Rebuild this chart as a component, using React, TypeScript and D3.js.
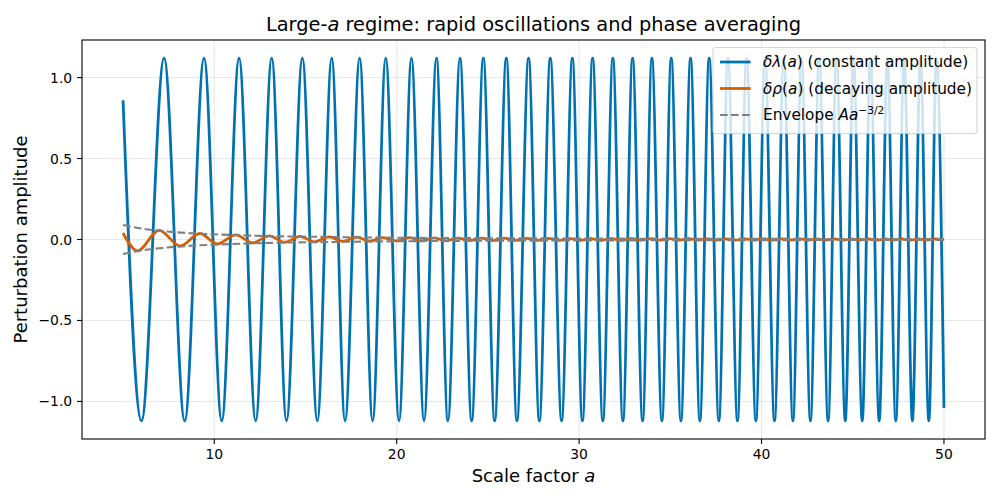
import React from "react";
import * as d3 from "d3";

// ---- data ----
const xTicks = [10, 20, 30, 40, 50];
const yTicks = [-1.0, -0.5, 0.0, 0.5, 1.0];

// δλ(a): start / end values and positions of extrema
const blueStart = { a: 5.0, v: 0.86 };
const blueEnd = { a: 50.0, v: -1.04 };
const bluePeakValue = 1.12;
const blueTroughValue = -1.12;
const bluePeakA = [7.25, 9.44, 11.36, 13.15, 14.83, 16.44, 17.97, 19.40, 20.81, 22.18, 23.47, 24.75, 26.01, 27.23, 28.42, 29.63, 30.74, 31.85, 32.93, 33.99, 35.05, 36.11, 37.13, 38.16, 39.18, 40.19, 41.22, 42.19, 43.16, 44.11, 45.04, 45.97, 46.90, 47.82, 48.71, 49.59];
const blueTroughA = [6.01, 8.38, 10.41, 12.27, 13.96, 15.65, 17.17, 18.68, 20.13, 21.50, 22.81, 24.11, 25.37, 26.59, 27.82, 29.04, 30.18, 31.30, 32.40, 33.48, 34.54, 35.58, 36.62, 37.66, 38.68, 39.69, 40.71, 41.72, 42.68, 43.65, 44.59, 45.52, 46.45, 47.36, 48.27, 49.17];

// δρ(a): decaying oscillation, extrema positions and values
const orangeStart = { a: 5.0, v: 0.04 };
const orangeEnd = { a: 50.0, v: 0.0 };
const orangePeakA = [6.98, 9.21, 11.18, 13.02, 14.70, 16.30, 17.82, 19.25, 20.68, 22.05, 23.35, 24.62, 25.88, 27.10, 28.30, 29.50, 30.62, 31.74, 32.82, 33.88, 34.94, 36.00, 37.02, 38.05, 39.07, 40.08, 41.11, 42.09, 43.06, 44.01, 44.94, 45.87, 46.80, 47.72, 48.62, 49.50];
const orangePeakV = [0.057, 0.037, 0.028, 0.022, 0.019, 0.016, 0.014, 0.012, 0.011, 0.010, 0.009, 0.008, 0.008, 0.007, 0.007, 0.006, 0.006, 0.006, 0.005, 0.005, 0.005, 0.005, 0.004, 0.004, 0.004, 0.004, 0.004, 0.004, 0.003, 0.003, 0.003, 0.003, 0.003, 0.003, 0.003, 0.003];
const orangeTroughA = [5.79, 8.13, 10.17, 12.10, 13.85, 15.50, 17.04, 18.52, 19.98, 21.38, 22.70, 23.99, 25.25, 26.48, 27.70, 28.92, 30.06, 31.19, 32.29, 33.37, 34.43, 35.47, 36.51, 37.55, 38.57, 39.58, 40.60, 41.61, 42.58, 43.55, 44.48, 45.42, 46.35, 47.26, 48.17, 49.07];
const orangeTroughV = [-0.070, -0.040, -0.027, -0.021, -0.017, -0.014, -0.012, -0.010, -0.009, -0.008, -0.008, -0.007, -0.007, -0.006, -0.006, -0.005, -0.005, -0.005, -0.005, -0.004, -0.004, -0.004, -0.004, -0.004, -0.004, -0.003, -0.003, -0.003, -0.003, -0.003, -0.003, -0.003, -0.003, -0.003, -0.003, -0.003];

// Envelope A a^{-3/2}
const envA = [5, 5.5, 6, 6.5, 7, 8, 9, 10, 12, 14, 16, 18, 20, 23, 26, 30, 35, 40, 45, 50];
const envV = [0.089, 0.078, 0.068, 0.060, 0.054, 0.044, 0.037, 0.032, 0.024, 0.019, 0.016, 0.013, 0.011, 0.009, 0.0075, 0.006, 0.0048, 0.004, 0.0033, 0.0028];

type P = { a: number; v: number };

function buildSeries(start: P, end: P, peaks: P[], troughs: P[]): P[] {
  const pts = [start, ...peaks, ...troughs, end];
  return pts.sort((p, q) => p.a - q.a);
}

const blueSeries = buildSeries(
  blueStart,
  blueEnd,
  bluePeakA.map((a) => ({ a, v: bluePeakValue })),
  blueTroughA.map((a) => ({ a, v: blueTroughValue }))
);
const orangeSeries = buildSeries(
  orangeStart,
  orangeEnd,
  orangePeakA.map((a, i) => ({ a, v: orangePeakV[i] })),
  orangeTroughA.map((a, i) => ({ a, v: orangeTroughV[i] }))
);
const envUpper = envA.map((a, i) => ({ a, v: envV[i] }));
const envLower = envA.map((a, i) => ({ a, v: -envV[i] }));

const W = 1000;
const H = 500;
const L = 82;
const R = 985;
const T = 40;
const B = 439;

const FONT = "'DejaVu Sans', sans-serif";
const BLUE = "#0072B2";
const ORANGE = "#D55E00";
const GRAY = "#808080";

export default function App() {
  const x = d3.scaleLinear().domain([2.75, 52.25]).range([L, R]);
  const y = d3.scaleLinear().domain([-1.232, 1.232]).range([B, T]);

  const line = d3
    .line<P>()
    .x((d) => x(d.a))
    .y((d) => y(d.v))
    .curve(d3.curveMonotoneX);
  const straight = d3
    .line<P>()
    .x((d) => x(d.a))
    .y((d) => y(d.v))
    .curve(d3.curveMonotoneX);

  const legendX = 713;
  const legendY = 47.5;
  const rows = [62, 88.5, 115];

  return (
    <svg
      width={W}
      height={H}
      style={{ position: "absolute", left: 0, top: 0, background: "#fff" }}
      fontFamily={FONT}
    >
      <rect x={0} y={0} width={W} height={H} fill="#fff" />
      <defs>
        <clipPath id="plotclip">
          <rect x={L} y={T} width={R - L} height={B - T} />
        </clipPath>
      </defs>

      {/* grid */}
      {xTicks.map((t) => (
        <line key={"gx" + t} x1={x(t)} x2={x(t)} y1={T} y2={B} stroke="#b0b0b0" strokeOpacity={0.3} strokeWidth={1.1} />
      ))}
      {yTicks.map((t) => (
        <line key={"gy" + t} x1={L} x2={R} y1={y(t)} y2={y(t)} stroke="#b0b0b0" strokeOpacity={0.3} strokeWidth={1.1} />
      ))}

      <g clipPath="url(#plotclip)">
        <path d={line(blueSeries) || ""} fill="none" stroke={BLUE} strokeWidth={2.78} strokeLinejoin="round" />
        <path d={line(orangeSeries) || ""} fill="none" stroke={ORANGE} strokeWidth={2.78} strokeLinejoin="round" />
        <path d={straight(envUpper) || ""} fill="none" stroke={GRAY} strokeWidth={2.08} strokeDasharray="7.7,3.3" />
        <path d={straight(envLower) || ""} fill="none" stroke={GRAY} strokeWidth={2.08} strokeDasharray="7.7,3.3" />
      </g>

      {/* axes frame */}
      <rect x={L} y={T} width={R - L} height={B - T} fill="none" stroke="#000" strokeWidth={1.1} />

      {/* x ticks */}
      {xTicks.map((t) => (
        <g key={"xt" + t}>
          <line x1={x(t)} x2={x(t)} y1={B} y2={B + 4.9} stroke="#000" strokeWidth={1.1} />
          <text x={x(t)} y={B + 20} textAnchor="middle" fontSize={13.9} fill="#000">
            {t}
          </text>
        </g>
      ))}
      {/* y ticks */}
      {yTicks.map((t) => (
        <g key={"yt" + t}>
          <line x1={L - 4.9} x2={L} y1={y(t)} y2={y(t)} stroke="#000" strokeWidth={1.1} />
          <text x={L - 9.8} y={y(t) + 5} textAnchor="end" fontSize={13.9} fill="#000">
            {t < 0 ? "\u2212" + Math.abs(t).toFixed(1) : t.toFixed(1)}
          </text>
        </g>
      ))}

      {/* axis labels */}
      <text x={(L + R) / 2} y={482} textAnchor="middle" fontSize={18} fill="#000">
        Scale factor <tspan fontStyle="italic">a</tspan>
      </text>
      <text
        transform={`translate(${27},${(T + B) / 2}) rotate(-90)`}
        textAnchor="middle"
        fontSize={18}
        fill="#000"
      >
        Perturbation amplitude
      </text>

      {/* title */}
      <text x={(L + R) / 2} y={31} textAnchor="middle" fontSize={19.4} fill="#000">
        Large-<tspan fontStyle="italic">a</tspan> regime: rapid oscillations and phase averaging
      </text>

      {/* legend */}
      <rect
        x={legendX}
        y={legendY}
        width={264}
        height={86}
        rx={3}
        fill="#fff"
        fillOpacity={0.8}
        stroke="#cccccc"
        strokeOpacity={0.8}
        strokeWidth={1.1}
      />
      <line x1={720} x2={750.6} y1={rows[0]} y2={rows[0]} stroke={BLUE} strokeWidth={2.78} />
      <line x1={720} x2={750.6} y1={rows[1]} y2={rows[1]} stroke={ORANGE} strokeWidth={2.78} />
      <line x1={720} x2={750.6} y1={rows[2]} y2={rows[2]} stroke={GRAY} strokeWidth={2.08} strokeDasharray="7.7,3.3" />
      <text x={763} y={rows[0] + 5.3} fontSize={15.3} fill="#000">
        <tspan fontStyle="italic">δλ</tspan>(<tspan fontStyle="italic">a</tspan>) (constant amplitude)
      </text>
      <text x={763} y={rows[1] + 5.3} fontSize={15.3} fill="#000">
        <tspan fontStyle="italic">δρ</tspan>(<tspan fontStyle="italic">a</tspan>) (decaying amplitude)
      </text>
      <text x={763} y={rows[2] + 5.3} fontSize={15.3} fill="#000">
        Envelope <tspan fontStyle="italic">Aa</tspan>
        <tspan dy={-6.5} fontSize={10.7}>
          {"\u22123/2"}
        </tspan>
      </text>
    </svg>
  );
}
